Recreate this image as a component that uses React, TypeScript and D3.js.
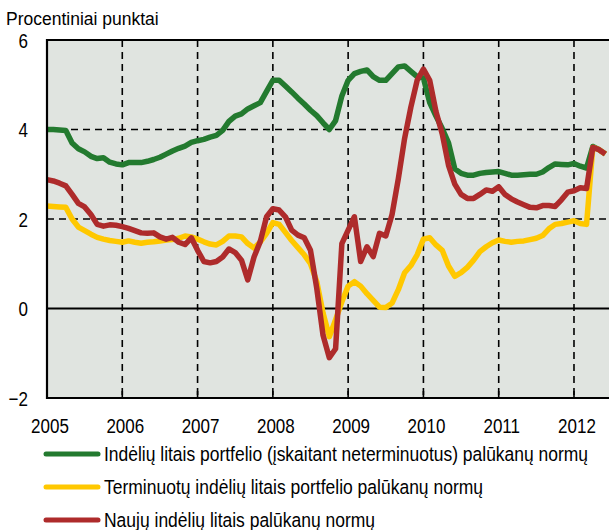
import { useEffect, useRef } from 'react';
import * as d3 from 'd3';

// monthly values, Jan 2005 .. Jun 2012
const startYear = 2005;

const portfolioAll = [
  4.0, 4.0, 3.99, 3.98, 3.7, 3.57, 3.5, 3.4, 3.35, 3.37, 3.27, 3.23,
  3.21, 3.26, 3.26, 3.26, 3.29, 3.33, 3.38, 3.45, 3.52, 3.58, 3.63, 3.71,
  3.75, 3.78, 3.83, 3.87, 3.98, 4.18, 4.3, 4.35, 4.46, 4.53, 4.6, 4.85,
  5.1, 5.1, 4.97, 4.84, 4.7, 4.57, 4.43, 4.31, 4.15, 4.0, 4.2, 4.75,
  5.1, 5.25, 5.3, 5.33, 5.18, 5.1, 5.1, 5.25, 5.4, 5.42, 5.3, 5.18,
  5.15, 4.6, 4.3, 4.02, 3.7, 3.12, 3.02, 2.98, 2.98, 3.02, 3.04, 3.05,
  3.06, 3.02, 2.98, 2.98, 2.99, 3.0, 3.0, 3.05, 3.15, 3.23, 3.22, 3.21,
  3.24, 3.18, 3.14, 3.62, 3.55, 3.45
];

const portfolioTerm = [
  2.29, 2.28, 2.27, 2.26, 2.0, 1.82, 1.74, 1.66, 1.59, 1.55, 1.52, 1.5,
  1.48, 1.51, 1.48, 1.46, 1.48, 1.49, 1.51, 1.53, 1.54, 1.57, 1.62, 1.6,
  1.55, 1.49, 1.44, 1.42, 1.5, 1.62, 1.62, 1.6, 1.45, 1.35, 1.49, 1.68,
  1.92, 1.88, 1.7, 1.52, 1.36, 1.2, 1.0, 0.6, -0.1, -0.63, -0.25, 0.15,
  0.5, 0.6, 0.5, 0.33, 0.18, 0.03, 0.02, 0.12, 0.42, 0.8, 0.96, 1.2,
  1.55, 1.58, 1.42, 1.3, 0.95, 0.72, 0.8, 0.92, 1.08, 1.27, 1.38, 1.47,
  1.53, 1.5, 1.48, 1.5, 1.51, 1.54, 1.57, 1.63, 1.78, 1.88, 1.9, 1.93,
  1.96, 1.9, 1.88, 3.6, 3.55, 3.45
];

const newDeposits = [
  2.88, 2.85, 2.8, 2.74, 2.55, 2.35, 2.27, 2.1, 1.88, 1.84, 1.87, 1.86,
  1.83, 1.79, 1.74, 1.69, 1.68, 1.69, 1.6, 1.55, 1.59, 1.48, 1.43, 1.58,
  1.3, 1.05, 1.02, 1.05, 1.15, 1.33, 1.25, 1.08, 0.64, 1.15, 1.5, 2.05,
  2.23, 2.2, 2.05, 1.75, 1.64, 1.58, 1.3, 0.45, -0.6, -1.1, -0.9, 1.45,
  1.75, 2.05, 1.05, 1.38, 1.16, 1.68, 1.62, 2.1, 2.9, 3.8, 4.5, 5.1,
  5.35, 5.1, 4.4, 3.9, 3.2, 2.78, 2.55, 2.46, 2.46, 2.55, 2.65, 2.62,
  2.72, 2.55, 2.45, 2.38, 2.32, 2.26, 2.25, 2.3, 2.3, 2.28, 2.43, 2.6,
  2.63, 2.7, 2.68, 3.6, 3.55, 3.45
];

const yearTicks = [2005, 2006, 2007, 2008, 2009, 2010, 2011, 2012];
const yTicks = [-2, 0, 2, 4, 6];

const seriesList = [
  { name: 'Indėlių litais portfelio (įskaitant neterminuotus) palūkanų normų', values: portfolioAll, color: '#237a2f', textWidth: 484 },
  { name: 'Terminuotų indėlių litais portfelio palūkanų normų', values: portfolioTerm, color: '#ffc800', textWidth: 379 },
  { name: 'Naujų indėlių litais palūkanų normų', values: newDeposits, color: '#ae2b2b', textWidth: 271 }
];

const font = "'Liberation Sans', Arial, sans-serif";
const squeeze = 0.81;

export default function App() {
  const svgRef = useRef<SVGSVGElement>(null);
  const width = 609;
  const height = 530;

  useEffect(() => {
    const svg = d3.select(svgRef.current);
    svg.selectAll('*').remove();

    const margin = { top: 40, right: 0, bottom: 132, left: 47 };
    const left = margin.left;
    const right = width - margin.right;
    const top = margin.top;
    const bottom = height - margin.bottom;

    const x = d3.scaleLinear().domain([2005, 2012.465]).range([left, right]);
    const y = d3.scaleLinear().domain([-2, 6]).range([bottom, top]);

    // background
    svg.append('rect')
      .attr('x', left).attr('y', top)
      .attr('width', right - left).attr('height', bottom - top)
      .attr('fill', '#e0e4e0');

    // grid
    const grid = svg.append('g');
    grid.selectAll('line.h')
      .data([2, 4])
      .enter().append('line')
      .attr('x1', left).attr('x2', right)
      .attr('y1', d => y(d)).attr('y2', d => y(d))
      .attr('stroke', '#000').attr('stroke-width', 1.6)
      .attr('stroke-dasharray', '7,5');
    grid.selectAll('line.v')
      .data(yearTicks.slice(1))
      .enter().append('line')
      .attr('x1', d => x(d)).attr('x2', d => x(d))
      .attr('y1', top).attr('y2', bottom)
      .attr('stroke', '#000').attr('stroke-width', 1.6)
      .attr('stroke-dasharray', '7,5');

    // zero line
    svg.append('line')
      .attr('x1', left).attr('x2', right)
      .attr('y1', y(0)).attr('y2', y(0))
      .attr('stroke', '#000').attr('stroke-width', 2);

    // lines
    const line = d3.line<number>()
      .x((_, i) => x(startYear + i / 12))
      .y(d => y(d));

    seriesList.forEach(s => {
      svg.append('path')
        .datum(s.values)
        .attr('fill', 'none')
        .attr('stroke', s.color)
        .attr('stroke-width', 5.5)
        .attr('stroke-linejoin', 'round')
        .attr('d', line);
    });

    // frame
    svg.append('path')
      .attr('d', `M${right},${top}H${left}V${bottom}H${right}`)
      .attr('fill', 'none')
      .attr('stroke', '#000')
      .attr('stroke-width', 2.2);

    // bottom ticks
    svg.selectAll('line.xt')
      .data(yearTicks.slice(1))
      .enter().append('line')
      .attr('x1', d => x(d)).attr('x2', d => x(d))
      .attr('y1', bottom).attr('y2', bottom - 7)
      .attr('stroke', '#000').attr('stroke-width', 1.6);

    // axis labels (condensed)
    svg.selectAll('text.yl')
      .data(yTicks)
      .enter().append('text')
      .attr('transform', d => `translate(28, ${y(d) + 7.5}) scale(${squeeze}, 1)`)
      .attr('text-anchor', 'end')
      .attr('font-family', font)
      .attr('font-size', 21)
      .text(d => (d < 0 ? '\u2212' + Math.abs(d) : String(d)));

    svg.selectAll('text.xl')
      .data(yearTicks)
      .enter().append('text')
      .attr('transform', d => `translate(${x(d) + 3}, 432.5) scale(${squeeze}, 1)`)
      .attr('text-anchor', 'middle')
      .attr('font-family', font)
      .attr('font-size', 21)
      .text(d => String(d));

    svg.append('text')
      .attr('x', 6).attr('y', 25)
      .attr('font-family', font)
      .attr('font-size', 17.5)
      .text('Procentiniai punktai');

    // legend
    const legend = svg.append('g').attr('transform', 'translate(44, 454)');
    seriesList.forEach((s, i) => {
      const g = legend.append('g').attr('transform', `translate(0, ${i * 33})`);
      g.append('line')
        .attr('x1', 2).attr('x2', 54)
        .attr('y1', 0).attr('y2', 0)
        .attr('stroke', s.color)
        .attr('stroke-width', 5)
        .attr('stroke-linecap', 'round');
      g.append('text')
        .attr('x', 60).attr('y', 0)
        .attr('dy', '0.36em')
        .attr('font-family', font)
        .attr('font-size', 20.5)
        .attr('textLength', s.textWidth)
        .attr('lengthAdjust', 'spacingAndGlyphs')
        .text(s.name);
    });
  }, []);

  return (
    <svg
      ref={svgRef}
      width={width}
      height={height}
      style={{ position: 'absolute', left: 0, top: 0, background: '#fff' }}
    />
  );
}
